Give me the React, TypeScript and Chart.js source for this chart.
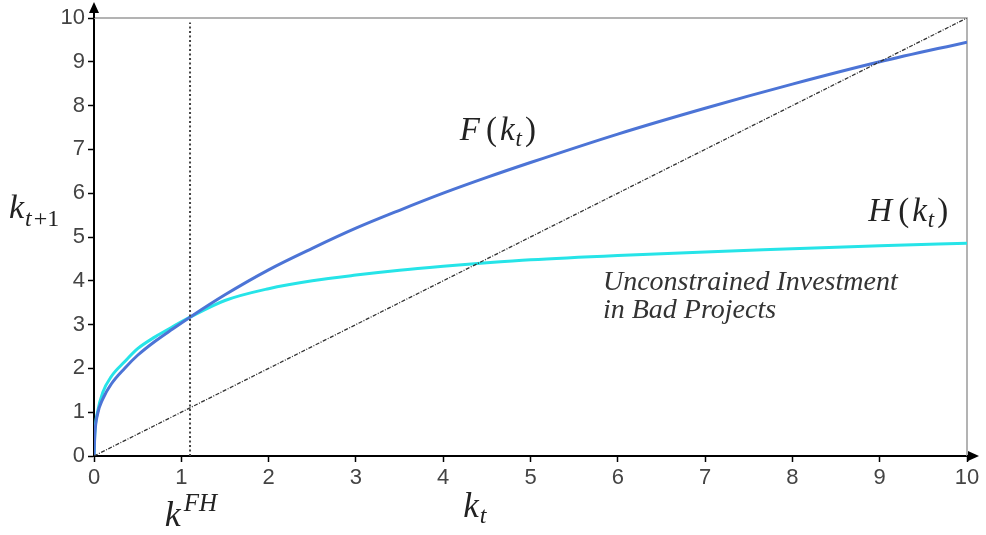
import { useEffect, useRef } from "react";
import Chart from "chart.js/auto";

// capital stock grid and the two transition maps
const kGrid = [0, 0.01, 0.04, 0.1, 0.2, 0.35, 0.5, 0.7, 0.9, 1.1, 1.5, 2, 2.5, 3, 3.5, 4, 4.5, 5, 6, 7, 8, 9, 10];
const fValues = [0, 0.5, 0.95, 1.3, 1.65, 2.0, 2.3, 2.62, 2.9, 3.17, 3.68, 4.25, 4.74, 5.2, 5.61, 6.0, 6.36, 6.7, 7.35, 7.94, 8.49, 9.0, 9.45];
const hValues = [0, 0.55, 1.0, 1.45, 1.82, 2.15, 2.45, 2.72, 2.95, 3.17, 3.55, 3.82, 4.0, 4.13, 4.24, 4.33, 4.41, 4.48, 4.58, 4.66, 4.73, 4.8, 4.86];
const diagonal = [0, 10];
const kFH = 1.1;
const kFHTop = 9.9;
const ticks = [0, 1, 2, 3, 4, 5, 6, 7, 8, 9, 10];
const noteLines = ["Unconstrained Investment", "in Bad Projects"];

const SERIF = '"Liberation Serif", "DejaVu Serif", serif';
const SANS = '"Liberation Sans", Arial, sans-serif';

type Part = { t: string; it?: boolean; size: number; dy?: number; gap?: number };

const drawMath = (ctx: CanvasRenderingContext2D, x: number, y: number, parts: Part[]) => {
  let cx = x;
  for (const p of parts) {
    ctx.font = `${p.it ? "italic " : ""}${p.size}px ${SERIF}`;
    ctx.fillText(p.t, cx, y + (p.dy || 0));
    cx += ctx.measureText(p.t).width + (p.gap || 0);
  }
};

const fnLabel = (name: string): Part[] => [
  { t: name, it: true, size: 33, gap: 6 },
  { t: "(", size: 33, gap: 3 },
  { t: "k", it: true, size: 33, gap: 1 },
  { t: "t", it: true, size: 23, dy: 6, gap: 3 },
  { t: ")", size: 33 },
];

const decorations = {
  id: "decorations",
  beforeDatasetsDraw(chart: Chart) {
    const { ctx, chartArea: a } = chart;
    ctx.save();
    ctx.strokeStyle = "#9a9a9a";
    ctx.lineWidth = 1.5;
    ctx.beginPath();
    ctx.moveTo(a.left, a.top);
    ctx.lineTo(a.right, a.top);
    ctx.lineTo(a.right, a.bottom);
    ctx.stroke();
    ctx.restore();
  },
  afterDraw(chart: Chart) {
    const { ctx, chartArea: a } = chart;
    const x = chart.scales.x;
    const y = chart.scales.y;
    ctx.save();
    // axis arrows
    ctx.strokeStyle = "#000";
    ctx.fillStyle = "#000";
    ctx.lineWidth = 2;
    ctx.beginPath();
    ctx.moveTo(a.left, a.top);
    ctx.lineTo(a.left, a.top - 10);
    ctx.moveTo(a.right, a.bottom);
    ctx.lineTo(a.right + 6, a.bottom);
    ctx.stroke();
    ctx.beginPath();
    ctx.moveTo(a.left, a.top - 16);
    ctx.lineTo(a.left - 5, a.top - 5);
    ctx.lineTo(a.left + 5, a.top - 5);
    ctx.closePath();
    ctx.fill();
    ctx.beginPath();
    ctx.moveTo(a.right + 12, a.bottom);
    ctx.lineTo(a.right + 1, a.bottom - 5);
    ctx.lineTo(a.right + 1, a.bottom + 5);
    ctx.closePath();
    ctx.fill();

    // labels
    ctx.fillStyle = "#222";
    ctx.textBaseline = "alphabetic";
    ctx.textAlign = "left";
    drawMath(ctx, x.getPixelForValue(4.19), y.getPixelForValue(7.21), fnLabel("F"));
    drawMath(ctx, x.getPixelForValue(8.87), y.getPixelForValue(5.37), fnLabel("H"));
    drawMath(ctx, 9, y.getPixelForValue(5.43), [
      { t: "k", it: true, size: 34, gap: 1 },
      { t: "t", it: true, size: 24, dy: 8, gap: 2 },
      { t: "+1", size: 24, dy: 8 },
    ]);
    drawMath(ctx, x.getPixelForValue(0.81), a.bottom + 70, [
      { t: "k", it: true, size: 36, gap: 3 },
      { t: "FH", it: true, size: 25, dy: -15 },
    ]);
    drawMath(ctx, x.getPixelForValue(4.23), a.bottom + 61, [
      { t: "k", it: true, size: 35, gap: 1 },
      { t: "t", it: true, size: 24, dy: 6 },
    ]);
    ctx.fillStyle = "#333";
    ctx.font = `italic 28px ${SERIF}`;
    ctx.fillText(noteLines[0], x.getPixelForValue(5.83), y.getPixelForValue(3.79));
    ctx.fillText(noteLines[1], x.getPixelForValue(5.83), y.getPixelForValue(3.15));
    ctx.restore();
  },
};

export default function App() {
  const ref = useRef<HTMLCanvasElement>(null);
  const chart = useRef<Chart | null>(null);

  useEffect(() => {
    if (!ref.current) return;
    document.body.style.margin = "0";
    chart.current?.destroy();

    const axis = (fit: (s: any) => void) => ({
      type: "linear" as const,
      min: 0,
      max: 10,
      afterBuildTicks: (s: any) => {
        s.ticks = ticks.map((v) => ({ value: v }));
      },
      afterFit: fit,
      ticks: {
        color: "#444",
        font: { family: SANS, size: 22 },
        padding: 3,
      },
      grid: {
        drawOnChartArea: false,
        drawTicks: true,
        tickLength: 6,
        tickColor: "#000",
        tickWidth: 1.5,
      },
      border: { color: "#000", width: 2 },
    });

    chart.current = new Chart(ref.current, {
      type: "line",
      data: {
        datasets: [
          {
            data: diagonal.map((v) => ({ x: v, y: v })),
            borderColor: "#333",
            borderWidth: 1.3,
            borderDash: [4, 1.5, 1, 1.5],
            pointRadius: 0,
          },
          {
            data: [{ x: kFH, y: 0 }, { x: kFH, y: kFHTop }],
            borderColor: "#444",
            borderWidth: 2,
            borderDash: [2, 2.5],
            pointRadius: 0,
          },
          {
            data: kGrid.map((k, i) => ({ x: k, y: fValues[i] })),
            borderColor: "#4c74d6",
            borderWidth: 3,
            pointRadius: 0,
            cubicInterpolationMode: "monotone",
          },
          {
            data: kGrid.map((k, i) => ({ x: k, y: hValues[i] })),
            borderColor: "#26e4e8",
            borderWidth: 3,
            pointRadius: 0,
            cubicInterpolationMode: "monotone",
          },
        ],
      },
      options: {
        animation: false,
        responsive: true,
        maintainAspectRatio: false,
        layout: { padding: { left: 0, right: 19, top: 18, bottom: 0 } },
        plugins: { legend: { display: false }, tooltip: { enabled: false } },
        scales: {
          x: axis((s) => {
            s.height = 79;
          }),
          y: axis((s) => {
            s.width = 94;
          }),
        },
      },
      plugins: [decorations],
    });

    return () => chart.current?.destroy();
  }, []);

  return (
    <div style={{ width: "986px", height: "535px", position: "relative", background: "#fff" }}>
      <canvas ref={ref} />
    </div>
  );
}
